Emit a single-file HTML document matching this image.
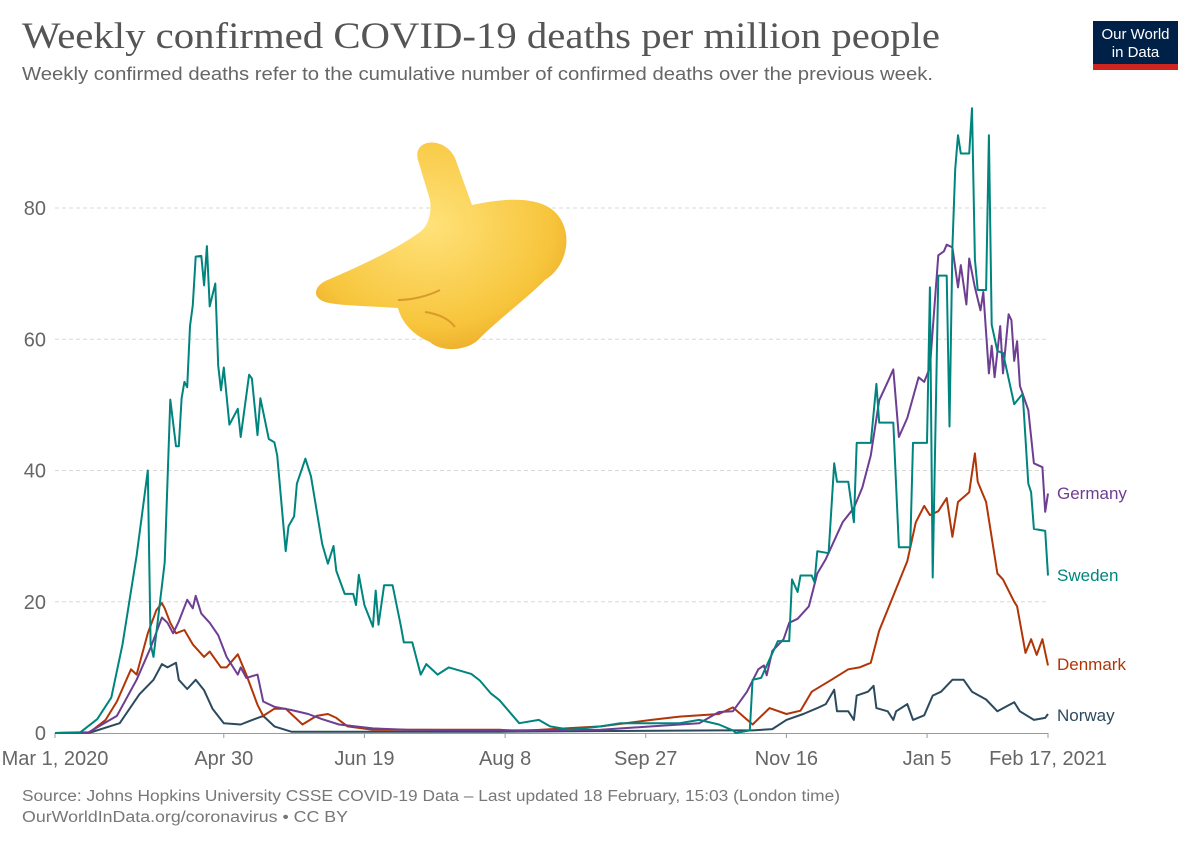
<!DOCTYPE html>
<html><head><meta charset="utf-8"><style>
body{margin:0;background:#fff;width:1200px;height:847px;overflow:hidden;font-family:"Liberation Sans",sans-serif}
</style></head><body>
<svg id="chart" width="1200" height="847" xmlns="http://www.w3.org/2000/svg">
<text x="22" y="48" font-family="Liberation Serif, serif" font-size="37" fill="#555" textLength="918" lengthAdjust="spacingAndGlyphs">Weekly confirmed COVID-19 deaths per million people</text>
<text x="22" y="80" font-size="18.5" fill="#666" textLength="911" lengthAdjust="spacingAndGlyphs">Weekly confirmed deaths refer to the cumulative number of confirmed deaths over the previous week.</text>
<g>
<rect x="1093" y="21" width="85" height="49" fill="#002147"/>
<rect x="1093" y="64" width="85" height="6" fill="#ce261e"/>
<text x="1135.5" y="39" text-anchor="middle" font-size="15" fill="#fff">Our World</text>
<text x="1135.5" y="57" text-anchor="middle" font-size="15" fill="#fff">in Data</text>
</g>
<g id="grid"></g><g id="xaxis"></g><g id="series"></g>
<g>
<defs><radialGradient id="hg" cx="0.45" cy="0.4" r="0.7"><stop offset="0" stop-color="#ffe27a"/><stop offset="0.7" stop-color="#f7c53c"/><stop offset="1" stop-color="#e8a323"/></radialGradient></defs>
<path d="M418 160 C 412 138, 445 136, 455 158 L 472 205 C 495 200, 530 195, 550 208 C 575 225, 570 265, 545 280 C 525 300, 500 318, 480 338 C 468 352, 440 352, 430 342 C 415 336, 402 324, 398 308 C 370 306, 340 306, 325 302 C 310 297, 315 284, 330 279 C 360 266, 395 250, 420 232 C 428 226, 432 214, 430 200 Z" fill="url(#hg)"/>
<path d="M398 300 C 412 300, 428 296, 440 290" stroke="#d99a2a" stroke-width="2" fill="none"/>
<path d="M425 312 C 440 314, 450 320, 455 327" stroke="#d99a2a" stroke-width="2" fill="none"/>
</g>
<text x="22" y="801" font-size="15.5" fill="#777" textLength="818" lengthAdjust="spacingAndGlyphs">Source: Johns Hopkins University CSSE COVID-19 Data – Last updated 18 February, 15:03 (London time)</text>
<text x="22" y="822" font-size="15.5" fill="#777" textLength="326" lengthAdjust="spacingAndGlyphs">OurWorldInData.org/coronavirus • CC BY</text>
</svg>
<script>
const yTicks=[0,20,40,60,80];
const xTickDays=[0,60,110,160,210,260,310,353];
const xTickLabels=["Mar 1, 2020","Apr 30","Jun 19","Aug 8","Sep 27","Nov 16","Jan 5","Feb 17, 2021"];
const seriesNames=["Sweden","Germany","Denmark","Norway"];
const swedenDays=[0,9,15,20,24,29,33,34,35,39,41,43,44,45,46,47,48,49,50,52,53,54,55,57,58,59,60,62,65,66,69,70,72,73,76,78,79,82,83,85,86,89,91,95,97,99,100,103,106,107,108,110,113,114,115,117,120,123,124,127,130,132,136,140,148,151,155,158,162,165,172,176,183,194,201,212,222,229,236,241,242,247,248,251,257,261,262,264,265,269,270,271,275,277,278,282,284,285,290,292,293,298,300,304,305,310,311,312,314,317,318,319,320,321,322,325,326,327,328,331,332,333,335,337,341,344,346,347,348,352,353];
const swedenVals=[0,0.1,2.1,5.4,13.5,27,40,13.5,11.6,26,50.8,43.7,43.7,51,53.5,52.7,62,65.2,72.6,72.7,68.2,74.2,65,68.5,56,52.2,55.7,47,49.4,45.1,54.6,54,45.4,51,44.8,44.3,42.3,27.7,31.5,33,38,41.8,39.1,28.8,25.8,28.5,24.7,21.2,21.2,19.5,24.1,19.5,16.2,21.7,16.5,22.5,22.5,16.2,13.8,13.8,8.9,10.5,8.9,10,9,8,6,5,3,1.5,2,1,0.5,1,1.5,1.5,1.5,2,1.3,0.4,0,0.4,8.1,8.4,14,14,23.4,21.5,24,24,23,27.7,27.4,41.1,38.3,38.3,32.1,44.2,44.2,53.2,47.3,47.3,28.3,28.3,44.2,44.2,67.9,23.7,69.7,69.7,46.7,74,85.9,91.1,88.3,88.3,95.2,72.2,67.5,67.5,91.1,62.2,58.2,57.9,50.1,51.7,38,36.7,31.1,30.8,24];
const germanyDays=[0,12,22,29,34,38,40,42,44,47,49,50,52,55,58,61,65,66,68,72,74,78,84,90,95,101,113,125,158,194,212,229,236,241,246,250,252,253,255,259,261,264,268,271,274,277,280,284,287,290,293,296,298,300,303,307,309,311,314,316,317,319,321,322,324,325,327,329,330,332,333,334,336,337,339,340,341,342,343,346,348,351,352,353];
const germanyVals=[0,0.1,2.6,8.1,13,17.6,16.8,15.2,17,20.3,19,20.9,18.2,16.8,14.9,11.6,8.9,10,8.4,8.9,4.8,4,3.5,2.9,2.1,1.3,0.7,0.5,0.4,0.5,1,1.5,3.2,3.3,6.3,9.7,10.3,8.8,12.5,14.3,16.8,17.4,19.3,24.3,26.5,29.3,32.1,34.3,37.4,42.3,50.7,53.5,55.4,45.1,48,54.2,53.5,55.7,72.8,73.4,74.4,74,67.9,71.3,65.3,72.3,67.9,64.4,67.2,54.8,59,54.2,62,54.8,63.8,62.9,56.7,59.7,52.9,49.2,41.1,40.5,33.7,36.5];
const denmarkDays=[0,12,18,22,27,29,33,36,38,39,41,43,46,49,53,55,59,61,65,68,72,74,78,82,88,93,97,100,104,113,158,165,194,212,222,236,241,248,254,260,265,269,276,282,286,290,293,298,303,306,309,311,314,317,319,321,325,327,328,331,335,337,341,342,345,347,349,351,353];
const denmarkVals=[0,0,2,4.8,9.7,8.9,15.2,18.7,19.8,19,16.8,15.2,15.7,13.5,11.6,12.4,10,10,12,8.9,4.3,2.6,3.7,3.7,1.3,2.6,2.9,2.3,1,0.5,0.5,0.3,1,2,2.5,2.9,3.9,1.3,3.8,2.9,3.4,6.3,8.1,9.7,10,10.7,15.6,20.9,26.2,32.1,34.6,33.2,33.8,35.8,29.9,35.2,36.7,42.6,38.3,35.2,24.3,23.4,20,19.3,12.2,14.3,11.9,14.3,10.3];
const norwayDays=[0,12,23,30,35,38,40,43,44,47,50,53,56,60,66,69,74,78,84,158,236,248,255,260,266,271,274,277,278,282,284,285,289,291,292,296,298,299,303,305,309,312,315,319,323,326,331,335,341,343,348,352,353];
const norwayVals=[0,0,1.5,5.9,8.1,10.5,10,10.7,8.1,6.7,8.1,6.5,3.7,1.5,1.3,1.8,2.6,1,0.2,0.2,0.4,0.4,0.6,2,2.9,3.8,4.4,6.6,3.3,3.3,2,5.7,6.3,7.2,3.8,3.3,2,3.3,4.4,2,2.7,5.7,6.3,8.1,8.1,6.3,5.1,3.3,4.7,3.3,2,2.3,2.9];

const X0=55,X1=1048,D1=353,Y0=733,YPER=6.5625;
const xs=d=>X0+(X1-X0)*d/D1;
const ys=v=>Y0-v*YPER;
const NS="http://www.w3.org/2000/svg";
function mk(tag,attrs,parent){const e=document.createElementNS(NS,tag);for(const k in attrs)e.setAttribute(k,attrs[k]);parent.appendChild(e);return e;}
const grid=document.getElementById('grid');
yTicks.forEach(t=>{
  if(t>0){const l=mk('line',{x1:55,x2:1048,y1:ys(t),y2:ys(t),stroke:'#d8d8d8','stroke-dasharray':'4,3'},grid);
  
  }
  const tx=mk('text',{x:46,y:ys(t)+7,'text-anchor':'end','font-size':20,fill:'#666'},grid);
  tx.textContent=t;
  
  
});
const xa=document.getElementById('xaxis');
const base=mk('line',{x1:55,x2:1048,y1:733.5,y2:733.5,stroke:'#999'},xa);


xTickDays.forEach((d,i)=>{
  const tk=mk('line',{x1:xs(d),x2:xs(d),y1:733,y2:738,stroke:'#999'},xa);
  
  
  const tx=mk('text',{x:xs(d),y:765,'text-anchor':'middle','font-size':20,fill:'#666'},xa);
  tx.textContent=xTickLabels[i];
  
  
});
const sg=document.getElementById('series');
const colors={Sweden:'#00847e',Germany:'#6d3e91',Denmark:'#b13507',Norway:'#2c4a5e'};
const data={Sweden:[swedenDays,swedenVals],Germany:[germanyDays,germanyVals],Denmark:[denmarkDays,denmarkVals],Norway:[norwayDays,norwayVals]};
const labelY={Germany:499,Sweden:581,Denmark:670,Norway:721};
["Norway","Denmark","Germany","Sweden"].forEach(n=>{
  const [ds,vs]=data[n];
  const pts=ds.map((d,i)=>xs(d).toFixed(1)+','+ys(vs[i]).toFixed(1)).join(' ');
  const p=mk('polyline',{points:pts,fill:'none',stroke:colors[n],'stroke-width':2,'stroke-linejoin':'round'},sg);
  
  
  const t=mk('text',{x:1057,y:labelY[n],'font-size':17,fill:colors[n]},sg);
  t.textContent=n;
  
  
});
</script>
</body></html>
